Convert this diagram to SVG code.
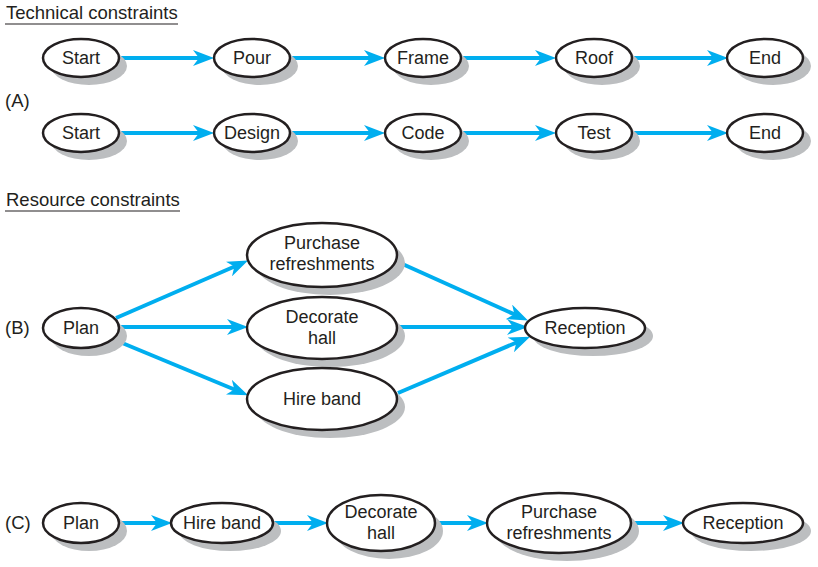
<svg xmlns="http://www.w3.org/2000/svg" width="818" height="567" viewBox="0 0 818 567">
<style>
.t{font-family:"Liberation Sans",Arial,sans-serif;font-size:18.5px;fill:#231f20}
.n{font-family:"Liberation Sans",Arial,sans-serif;font-size:18px;fill:#231f20;text-anchor:middle}
.sh{fill:#bcbec0}
.el{fill:#fff;stroke:#231f20;stroke-width:2.5}
.c{stroke:#00aeef;stroke-width:4;fill:none;marker-end:url(#ah)}
.u{stroke:#231f20;stroke-width:1.2}
</style>
<defs>
<marker id="ah" markerUnits="userSpaceOnUse" markerWidth="22" markerHeight="16" viewBox="0 0 22 16" refX="10" refY="8" orient="auto">
<path d="M0,0 L21,8 L0,16 L6,8 Z" fill="#00aeef"/>
</marker>
</defs>
<rect width="818" height="567" fill="#fff"/>
<text class="t" x="6" y="19">Technical constraints</text>
<line class="u" x1="5" y1="24" x2="178" y2="24"/>
<text class="t" x="5" y="107">(A)</text>
<text class="t" x="6" y="206">Resource constraints</text>
<line class="u" x1="5" y1="211" x2="180" y2="211"/>
<text class="t" x="5" y="334">(B)</text>
<text class="t" x="5" y="529">(C)</text>

<g id="connectors">
<line class="c" x1="119" y1="58" x2="203" y2="58"/>
<line class="c" x1="290" y1="58" x2="374" y2="58"/>
<line class="c" x1="461" y1="58" x2="545" y2="58"/>
<line class="c" x1="633" y1="58" x2="717" y2="58"/>
<line class="c" x1="119" y1="133" x2="203" y2="133"/>
<line class="c" x1="290" y1="133" x2="374" y2="133"/>
<line class="c" x1="461" y1="133" x2="545" y2="133"/>
<line class="c" x1="633" y1="133" x2="717" y2="133"/>
<line class="c" x1="116" y1="318" x2="238" y2="265"/>
<line class="c" x1="119" y1="327" x2="237" y2="327"/>
<line class="c" x1="115" y1="340" x2="238" y2="391"/>
<line class="c" x1="398" y1="262" x2="518" y2="316"/>
<line class="c" x1="398" y1="327" x2="517" y2="327"/>
<line class="c" x1="398" y1="393" x2="520" y2="341"/>
<line class="c" x1="119" y1="523" x2="161" y2="523"/>
<line class="c" x1="273" y1="523" x2="317" y2="523"/>
<line class="c" x1="435" y1="523" x2="477" y2="523"/>
<line class="c" x1="631" y1="523" x2="673" y2="523"/>
</g>

<g id="a1-start"><ellipse class="sh" cx="89" cy="66" rx="38" ry="19"/><ellipse class="el" cx="81" cy="58" rx="38" ry="19"/><text class="n" x="81" y="64">Start</text></g>
<g id="a1-pour"><ellipse class="sh" cx="260" cy="66" rx="38" ry="19"/><ellipse class="el" cx="252" cy="58" rx="38" ry="19"/><text class="n" x="252" y="64">Pour</text></g>
<g id="a1-frame"><ellipse class="sh" cx="431" cy="66" rx="38" ry="19"/><ellipse class="el" cx="423" cy="58" rx="38" ry="19"/><text class="n" x="423" y="64">Frame</text></g>
<g id="a1-roof"><ellipse class="sh" cx="602" cy="66" rx="38" ry="19"/><ellipse class="el" cx="594" cy="58" rx="38" ry="19"/><text class="n" x="594" y="64">Roof</text></g>
<g id="a1-end"><ellipse class="sh" cx="773" cy="66" rx="38" ry="19"/><ellipse class="el" cx="765" cy="58" rx="38" ry="19"/><text class="n" x="765" y="64">End</text></g>

<g id="a2-start"><ellipse class="sh" cx="89" cy="141" rx="38" ry="19"/><ellipse class="el" cx="81" cy="133" rx="38" ry="19"/><text class="n" x="81" y="139">Start</text></g>
<g id="a2-design"><ellipse class="sh" cx="260" cy="141" rx="38" ry="19"/><ellipse class="el" cx="252" cy="133" rx="38" ry="19"/><text class="n" x="252" y="139">Design</text></g>
<g id="a2-code"><ellipse class="sh" cx="431" cy="141" rx="38" ry="19"/><ellipse class="el" cx="423" cy="133" rx="38" ry="19"/><text class="n" x="423" y="139">Code</text></g>
<g id="a2-test"><ellipse class="sh" cx="602" cy="141" rx="38" ry="19"/><ellipse class="el" cx="594" cy="133" rx="38" ry="19"/><text class="n" x="594" y="139">Test</text></g>
<g id="a2-end"><ellipse class="sh" cx="773" cy="141" rx="38" ry="19"/><ellipse class="el" cx="765" cy="133" rx="38" ry="19"/><text class="n" x="765" y="139">End</text></g>

<g id="b-plan"><ellipse class="sh" cx="89" cy="336" rx="38" ry="20"/><ellipse class="el" cx="81" cy="328" rx="38" ry="20"/><text class="n" x="81" y="334">Plan</text></g>
<g id="b-purchase"><ellipse class="sh" cx="330" cy="263" rx="75" ry="32"/><ellipse class="el" cx="322" cy="255" rx="75" ry="32"/><text class="n" x="322" y="249">Purchase</text><text class="n" x="322" y="270">refreshments</text></g>
<g id="b-decorate"><ellipse class="sh" cx="330" cy="336" rx="75" ry="31"/><ellipse class="el" cx="322" cy="328" rx="75" ry="31"/><text class="n" x="322" y="323">Decorate</text><text class="n" x="322" y="344">hall</text></g>
<g id="b-hire"><ellipse class="sh" cx="330" cy="407" rx="75" ry="31"/><ellipse class="el" cx="322" cy="399" rx="75" ry="31"/><text class="n" x="322" y="405">Hire band</text></g>
<g id="b-reception"><ellipse class="sh" cx="593" cy="336" rx="60" ry="20"/><ellipse class="el" cx="585" cy="328" rx="60" ry="20"/><text class="n" x="585" y="334">Reception</text></g>

<g id="c-plan"><ellipse class="sh" cx="89" cy="531" rx="38" ry="20"/><ellipse class="el" cx="81" cy="523" rx="38" ry="20"/><text class="n" x="81" y="529">Plan</text></g>
<g id="c-hire"><ellipse class="sh" cx="230" cy="531" rx="51" ry="20"/><ellipse class="el" cx="222" cy="523" rx="51" ry="20"/><text class="n" x="222" y="529">Hire band</text></g>
<g id="c-decorate"><ellipse class="sh" cx="389" cy="531" rx="54" ry="28"/><ellipse class="el" cx="381" cy="523" rx="54" ry="28"/><text class="n" x="381" y="518">Decorate</text><text class="n" x="381" y="539">hall</text></g>
<g id="c-purchase"><ellipse class="sh" cx="567" cy="531" rx="72" ry="30"/><ellipse class="el" cx="559" cy="523" rx="72" ry="30"/><text class="n" x="559" y="518">Purchase</text><text class="n" x="559" y="539">refreshments</text></g>
<g id="c-reception"><ellipse class="sh" cx="751" cy="531" rx="60" ry="20"/><ellipse class="el" cx="743" cy="523" rx="60" ry="20"/><text class="n" x="743" y="529">Reception</text></g>
</svg>
